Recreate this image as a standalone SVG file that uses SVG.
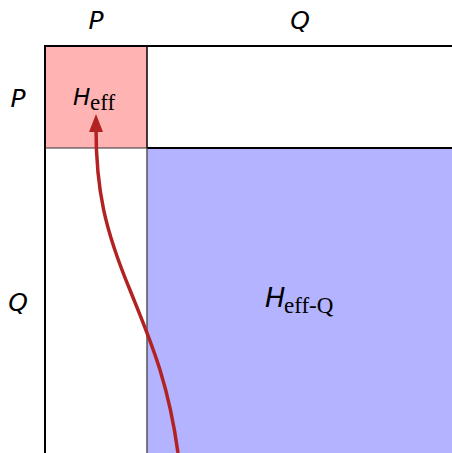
<svg xmlns="http://www.w3.org/2000/svg" width="452" height="453" viewBox="0 0 452 453">
<defs>
<style>
.lab{font-family:"DejaVu Sans",sans-serif;font-style:italic;fill:#000}
.sub{font-family:"Liberation Serif","DejaVu Serif",serif;fill:#000}
.line{stroke:#000;stroke-width:2;fill:none}
</style>
</defs>
<rect width="452" height="453" fill="#fff"/>
<g id="block-pp"><rect x="45" y="46" width="102" height="102" fill="#ffb3b3"/>
<text class="lab" x="73" y="105" font-size="23">H</text><text class="sub" x="90" y="110" font-size="23">eff</text></g>
<g id="block-qq"><rect x="147" y="148" width="305" height="305" fill="#b3b3ff"/>
<text class="lab" x="265" y="307" font-size="27">H</text><text class="sub" x="284" y="313" font-size="23">eff-Q</text></g>
<g id="grid">
<line class="line" x1="44" y1="46" x2="452" y2="46"/>
<line class="line" x1="45" y1="45" x2="45" y2="453"/>
<line class="line" x1="147" y1="148" x2="452" y2="148"/>
<line x1="147" y1="46" x2="147" y2="148" stroke="#000" stroke-width="1.5"/>
<line x1="147" y1="148" x2="147" y2="453" stroke="#555" stroke-width="1.5"/>
<line x1="45" y1="148" x2="147" y2="148" stroke="#333" stroke-width="1.2"/>
</g>
<g id="labels">
<text class="lab" x="96" y="29" font-size="25" text-anchor="middle">P</text>
<text class="lab" x="300" y="29" font-size="25" text-anchor="middle">Q</text>
<text class="lab" x="18" y="107" font-size="25" text-anchor="middle">P</text>
<text class="lab" x="18" y="311" font-size="25" text-anchor="middle">Q</text>
</g>
<g id="connectors">
<path d="M178,453 C168,380 150,340 130,290 C105,230 96,190 96,128" fill="none" stroke="#b22222" stroke-width="3.5"/>
<path d="M96,114 L103,132 L89,132 z" fill="#b22222"/>
</g>
</svg>
